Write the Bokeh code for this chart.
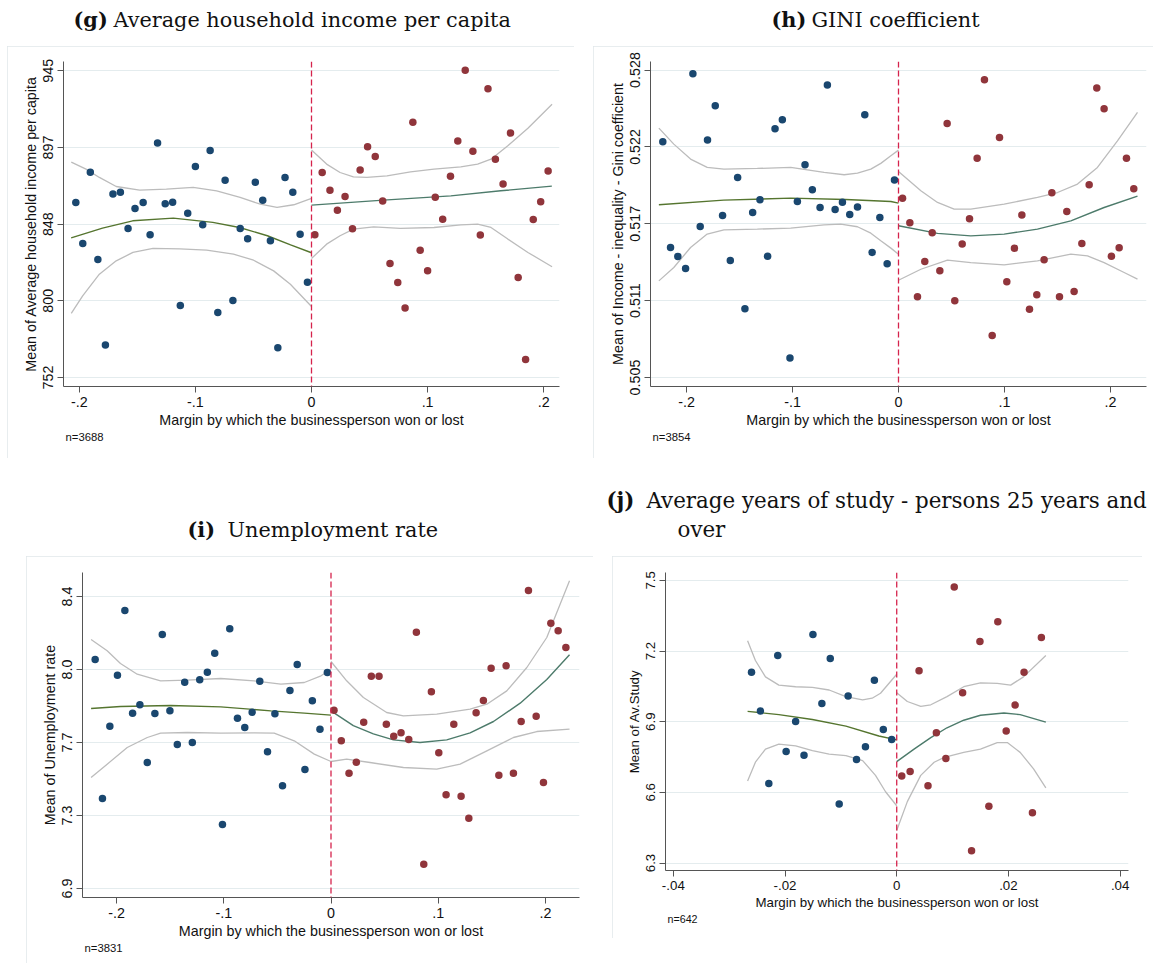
from bokeh.plotting import figure
from bokeh.models import Range1d, FixedTicker, Span, Title, Spacer, CustomJSTickFormatter
from bokeh.layouts import row, column
from bokeh.embed import file_html
from bokeh.resources import INLINE
from bokeh.core.properties import value

# ---------------- data: binned means, polynomial fits and 95% CI bands ----------------
# (g) Average household income per capita
g_blue_x = [-0.203, -0.197, -0.1905, -0.184, -0.1775, -0.171, -0.1646, -0.158, -0.152, -0.145, -0.139, -0.1326,
            -0.126, -0.1196, -0.113, -0.1066, -0.100, -0.0937, -0.0873, -0.0807, -0.0744, -0.0677, -0.0614, -0.055,
            -0.0484, -0.042, -0.0354, -0.029, -0.0228, -0.0161, -0.0098, -0.0035]
g_blue_y = [862.1, 836.3, 881.2, 826.3, 772.4, 867.4, 868.6, 845.8, 858.4, 862.1, 841.8, 899.5, 861.3, 862.3,
            797.3, 855.4, 884.8, 848.1, 894.9, 792.9, 876.2, 800.5, 845.8, 839.3, 874.9, 863.6, 838.0, 770.7,
            877.9, 868.6, 842.2, 812.0]
g_red_x = [0.0029, 0.0092, 0.0159, 0.0223, 0.0289, 0.0353, 0.0419, 0.0483, 0.0549, 0.0613, 0.0676, 0.0743,
           0.0806, 0.0873, 0.0936, 0.1000, 0.1066, 0.1130, 0.1197, 0.1260, 0.1324, 0.1390, 0.1454, 0.1520,
           0.1584, 0.1650, 0.1714, 0.1780, 0.1844, 0.1910, 0.1974, 0.2038]
g_red_y = [841.8, 881.0, 869.9, 857.3, 865.9, 845.6, 882.5, 897.2, 891.1, 863.0, 823.7, 811.8, 795.8, 912.7,
           832.1, 819.1, 865.5, 851.6, 878.7, 900.9, 945.4, 894.4, 841.6, 933.7, 889.4, 873.7, 905.8, 814.9,
           763.3, 851.4, 862.6, 881.9]
g_fitL_x = [-0.207, -0.18, -0.154, -0.119, -0.085, -0.062, -0.038, -0.018, 0.0]
g_fitL_y = [839.9, 846.0, 850.6, 852.3, 849.6, 846.4, 841.2, 835.5, 830.5]
g_upL_x = [-0.2069, -0.1942, -0.1827, -0.1682, -0.148, -0.125, -0.1019, -0.0817, -0.0615, -0.0442, -0.0297, -0.0153, 0.0]
g_upL_y = [887.5, 883.1, 877.9, 872.2, 869.9, 870.5, 871.6, 869.5, 865.3, 861.1, 859.0, 860.7, 864.7]
g_loL_x = [-0.2069, -0.1971, -0.1827, -0.1682, -0.1538, -0.1365, -0.1134, -0.0903, -0.0672, -0.0499, -0.0326, -0.0182, 0.0]
g_loL_y = [792.3, 803.4, 817.0, 825.4, 830.7, 833.2, 833.0, 832.1, 829.6, 825.8, 819.1, 810.7, 796.7]
g_fitR_x = [0.0, 0.062, 0.12, 0.163, 0.207]
g_fitR_y = [860.5, 863.6, 866.3, 869.5, 872.4]
g_upR_x = [0.0, 0.013, 0.0246, 0.0361, 0.0477, 0.065, 0.0853, 0.1055, 0.1286, 0.1431, 0.1546, 0.1691, 0.1864, 0.2072]
g_upR_y = [895.1, 886.3, 881.0, 878.3, 877.9, 878.9, 881.4, 883.1, 884.6, 886.3, 889.4, 897.8, 908.9, 924.0]
g_loR_x = [0.0, 0.013, 0.0246, 0.0361, 0.0535, 0.0766, 0.1055, 0.1286, 0.1431, 0.1546, 0.1691, 0.1864, 0.2072]
g_loR_y = [826.9, 835.9, 841.2, 845.4, 846.8, 845.8, 846.4, 848.1, 848.5, 846.4, 839.1, 830.7, 821.7]

# (h) GINI coefficient
h_blue_x = [-0.2224, -0.2151, -0.2082, -0.2009, -0.194, -0.1871, -0.1802, -0.1729, -0.166, -0.1587, -0.1518,
            -0.1449, -0.1376, -0.1307, -0.1235, -0.1165, -0.1096, -0.1024, -0.0954, -0.0882, -0.0813, -0.074,
            -0.0671, -0.0598, -0.0529, -0.046, -0.0387, -0.0318, -0.0249, -0.0176, -0.0107, -0.0038]
h_blue_y = [0.52264, 0.51473, 0.51406, 0.51316, 0.52773, 0.5163, 0.52276, 0.52533, 0.51712, 0.51376, 0.51997,
            0.51014, 0.51735, 0.5183, 0.51408, 0.52361, 0.52428, 0.50647, 0.51817, 0.52092, 0.51904, 0.51772,
            0.52688, 0.51757, 0.51812, 0.5172, 0.51775, 0.52466, 0.51436, 0.51697, 0.51351, 0.51977]
h_red_x = [0.0038, 0.0107, 0.0179, 0.0248, 0.0318, 0.039, 0.0459, 0.0531, 0.0601, 0.067, 0.0742, 0.0811, 0.0884,
           0.0953, 0.1022, 0.1094, 0.1164, 0.1236, 0.1305, 0.1374, 0.1447, 0.1519, 0.1588, 0.1657, 0.173, 0.1799,
           0.1871, 0.194, 0.2009, 0.2082, 0.2151, 0.222]
h_red_y = [0.51842, 0.51658, 0.51104, 0.51368, 0.51583, 0.51298, 0.52401, 0.51074, 0.51498, 0.51687, 0.52141,
           0.52728, 0.50814, 0.52296, 0.51216, 0.51468, 0.51715, 0.51011, 0.51119, 0.51381, 0.51882, 0.51104,
           0.51742, 0.51144, 0.51503, 0.51942, 0.52665, 0.52511, 0.51408, 0.5147, 0.52141, 0.51912]
h_fitL_x = [-0.2261, -0.165, -0.1017, -0.05, -0.0072, 0.0]
h_fitL_y = [0.51792, 0.51827, 0.51842, 0.51832, 0.51817, 0.51805]
h_upL_x = [-0.2261, -0.212, -0.1962, -0.1805, -0.1647, -0.1332, -0.1017, -0.0702, -0.0513, -0.0387, -0.0261,
           -0.0167, -0.0072, 0.0]
h_upL_y = [0.52366, 0.52246, 0.52134, 0.52072, 0.52059, 0.52064, 0.52072, 0.52034, 0.52017, 0.52029, 0.52059,
           0.52102, 0.52159, 0.52201]
h_loL_x = [-0.2261, -0.212, -0.1962, -0.1805, -0.1647, -0.1332, -0.1017, -0.0702, -0.0545, -0.0387, -0.0261,
           -0.0167, -0.0072, 0.0]
h_loL_y = [0.51223, 0.51323, 0.51473, 0.51573, 0.51605, 0.5161, 0.51618, 0.51642, 0.51647, 0.51628, 0.5158,
           0.51523, 0.51468, 0.51423]
h_fitR_x = [0.0, 0.0368, 0.0682, 0.0997, 0.1311, 0.1626, 0.194, 0.2255]
h_fitR_y = [0.51635, 0.51578, 0.5156, 0.51573, 0.5161, 0.51672, 0.51772, 0.51857]
h_upR_x = [0.0, 0.0211, 0.0368, 0.0525, 0.0682, 0.0997, 0.1311, 0.15, 0.1689, 0.1877, 0.2066, 0.2255]
h_upR_y = [0.52042, 0.51897, 0.5181, 0.5176, 0.5176, 0.51797, 0.51847, 0.51884, 0.51947, 0.52072, 0.52271, 0.52483]
h_loR_x = [0.0, 0.0211, 0.0462, 0.0682, 0.0997, 0.1311, 0.1626, 0.1783, 0.194, 0.2129, 0.2255]
h_loR_y = [0.51228, 0.5131, 0.51378, 0.5136, 0.51343, 0.51373, 0.51423, 0.5141, 0.5136, 0.51286, 0.51236]

# (i) Unemployment rate
i_blue_x = [-0.2199, -0.2131, -0.2062, -0.1991, -0.1922, -0.185, -0.1782, -0.1713, -0.1642, -0.1573, -0.1502,
            -0.1433, -0.1364, -0.1293, -0.1224, -0.1153, -0.1084, -0.1012, -0.0944, -0.0872, -0.0804, -0.0735,
            -0.0664, -0.0592, -0.0523, -0.0452, -0.0383, -0.0315, -0.0243, -0.0174, -0.0103, -0.0034]
i_blue_y = [8.0764, 7.3623, 7.7339, 7.9959, 8.3281, 7.8007, 7.8435, 7.5473, 7.799, 8.2048, 7.8127, 7.6397,
            7.9599, 7.65, 7.9719, 8.0113, 8.1089, 7.2288, 8.2339, 7.775, 7.7271, 7.8058, 7.9651, 7.6021, 7.7973,
            7.4274, 7.9171, 8.0507, 7.5113, 7.864, 7.7185, 8.0096]
i_red_x = [0.0028, 0.0096, 0.0168, 0.0236, 0.0305, 0.0376, 0.0448, 0.0516, 0.0585, 0.0653, 0.0725, 0.0796,
           0.0865, 0.0936, 0.1005, 0.1073, 0.1145, 0.1213, 0.1285, 0.1353, 0.1421, 0.1493, 0.1565, 0.1633,
           0.1701, 0.1773, 0.1841, 0.1913, 0.1981, 0.205, 0.2118, 0.219]
i_red_y = [7.8161, 7.6586, 7.4925, 7.549, 7.7545, 7.9908, 7.9908, 7.7442, 7.6825, 7.6997, 7.6654, 8.2168,
           7.025, 7.9103, 7.5969, 7.3812, 7.7442, 7.3743, 7.2613, 7.8024, 7.8658, 8.0318, 7.4822, 8.0438,
           7.4925, 7.7579, 8.4308, 7.7853, 7.4445, 8.263, 8.2236, 8.138]
i_fitL_x = [-0.2237, -0.1963, -0.1495, -0.1028, -0.0561, -0.0249, 0.0]
i_fitL_y = [7.8247, 7.8349, 7.8401, 7.8332, 7.8127, 7.8007, 7.7904]
i_upL_x = [-0.2237, -0.2087, -0.1963, -0.1807, -0.1589, -0.134, -0.1028, -0.0717, -0.0467, -0.0249, -0.0093, 0.0]
i_upL_y = [8.1791, 8.1209, 8.0558, 8.001, 7.9668, 7.9702, 7.9788, 7.9668, 7.9497, 7.9582, 7.9925, 8.0267]
i_loL_x = [-0.2237, -0.2087, -0.19, -0.1713, -0.1589, -0.134, -0.1028, -0.0717, -0.053, -0.0343, -0.0156, 0.0]
i_loL_y = [7.4702, 7.5387, 7.6243, 7.6757, 7.6979, 7.7014, 7.6979, 7.6997, 7.6979, 7.6586, 7.5901, 7.5524]
i_fitR_x = [0.0, 0.0208, 0.0395, 0.0582, 0.083, 0.1079, 0.1297, 0.1515, 0.1764, 0.2012, 0.2224]
i_fitR_y = [7.8127, 7.7366, 7.6945, 7.6637, 7.65, 7.6637, 7.6997, 7.7579, 7.8521, 7.9736, 8.1003]
i_upR_x = [0.0, 0.0146, 0.0302, 0.0519, 0.0675, 0.0986, 0.1297, 0.1453, 0.1639, 0.1826, 0.2012, 0.2224]
i_upR_y = [8.0661, 7.9668, 7.8812, 7.8041, 7.787, 7.7955, 7.8212, 7.8469, 7.9154, 8.0353, 8.1894, 8.4805]
i_loR_x = [0.0, 0.0146, 0.0364, 0.0675, 0.0986, 0.1204, 0.1453, 0.1701, 0.1919, 0.2224]
i_loR_y = [7.5524, 7.5644, 7.5473, 7.5216, 7.513, 7.5387, 7.6072, 7.6757, 7.7065, 7.7185]

# (j) Average years of study - persons 25 years and over
j_blue_x = [-0.026, -0.0244, -0.0229, -0.0213, -0.0198, -0.0181, -0.0166, -0.015, -0.0134, -0.0119, -0.0103,
            -0.0087, -0.0072, -0.0056, -0.004, -0.0024, -0.0009]
j_blue_y = [7.1098, 6.9453, 6.6373, 7.1808, 6.7739, 6.9007, 6.7571, 7.27, 6.9774, 7.1683, 6.5509, 7.0094,
            6.739, 6.7934, 7.0763, 6.8672, 6.824]
j_red_x = [0.0009, 0.0024, 0.004, 0.0056, 0.0071, 0.0088, 0.0103, 0.0118, 0.0134, 0.0149, 0.0165, 0.0181,
           0.0196, 0.0212, 0.0228, 0.0243, 0.0259]
j_red_y = [6.6693, 6.6889, 7.1167, 6.6275, 6.8533, 6.7432, 7.4721, 7.0233, 6.3516, 7.2408, 6.5411, 7.3244,
           6.8603, 6.9704, 7.1098, 6.5132, 7.2575]
j_fitL_x = [-0.0267, -0.0211, -0.0151, -0.0091, -0.0032, 0.0]
j_fitL_y = [6.9439, 6.93, 6.9091, 6.8812, 6.8394, 6.8226]
j_upL_x = [-0.0267, -0.0253, -0.0235, -0.0211, -0.0181, -0.0151, -0.0121, -0.0091, -0.0061, -0.0044, -0.0029, 0.0]
j_upL_y = [7.2436, 7.1599, 7.0902, 7.0554, 7.0484, 7.0457, 7.0345, 7.0066, 6.9927, 6.9997, 7.0206, 7.1014]
j_loL_x = [-0.0267, -0.0253, -0.0235, -0.0211, -0.0181, -0.0151, -0.0121, -0.0091, -0.0061, -0.0038, -0.002, 0.0]
j_loL_y = [6.6484, 6.7279, 6.7836, 6.8045, 6.7976, 6.7767, 6.7627, 6.7557, 6.7348, 6.6721, 6.6025, 6.5432]
j_fitR_x = [0.0, 0.0031, 0.0061, 0.009, 0.012, 0.015, 0.0192, 0.0221, 0.0267]
j_fitR_y = [6.7307, 6.7836, 6.8324, 6.8742, 6.9063, 6.9272, 6.9369, 6.93, 6.8979]
j_upR_x = [0.0, 0.0019, 0.0043, 0.0061, 0.009, 0.012, 0.015, 0.018, 0.0204, 0.0227, 0.0267]
j_upR_y = [7.0233, 6.9857, 6.9648, 6.9718, 7.0066, 7.0484, 7.0652, 7.0624, 7.0554, 7.0903, 7.1808]
j_loR_x = [0.0, 0.0019, 0.0043, 0.0067, 0.0085, 0.012, 0.015, 0.018, 0.0198, 0.0221, 0.0245, 0.0267]
j_loR_y = [6.438, 6.5606, 6.6721, 6.7279, 6.7488, 6.7697, 6.7836, 6.8115, 6.8115, 6.7697, 6.6999, 6.6192]

# axis ticks and their printed labels
x_ticks_wide = [-0.2, -0.1, 0.0, 0.1, 0.2]
x_labels_wide = ["-.2", "-.1", "0", ".1", ".2"]
x_ticks_narrow = [-0.04, -0.02, 0.0, 0.02, 0.04]
x_labels_narrow = ["-.04", "-.02", "0", ".02", ".04"]
g_y_ticks = [752, 800.25, 848.5, 896.75, 945]
g_y_labels = ["752", "800", "848", "897", "945"]
h_y_ticks = [0.505, 0.51075, 0.5165, 0.52225, 0.528]
h_y_labels = ["0.505", "0.511", "0.517", "0.522", "0.528"]
i_y_ticks = [6.9, 7.275, 7.65, 8.025, 8.4]
i_y_labels = ["6.9", "7.3", "7.7", "8.0", "8.4"]
j_y_ticks = [6.3, 6.6, 6.9, 7.2, 7.5]
j_y_labels = ["6.3", "6.6", "6.9", "7.2", "7.5"]

NAVY = "#1a476f"
MAROON = "#90353b"
FIT_L = "#55752f"
FIT_R = "#4d7b6b"
CI = "#bcbcbc"
GRID = "#e4ecee"
BOX = "#e0e7ea"
AXIS = "#555555"
SANS = "Liberation Sans"
SERIF = "DejaVu Serif"


def label_formatter(tick_values, tick_texts):
    return CustomJSTickFormatter(args=dict(tv=tick_values, tt=tick_texts), code="""
        let best = 0, d = Infinity;
        for (let k = 0; k < tv.length; k++) {
            const e = Math.abs(tv[k] - tick);
            if (e < d) { d = e; best = k; }
        }
        return tt[best];
    """)


def panel(w, h, borders, xr, yr, xt, xl, yt, yl, ylabel, note, fs, note_fs, series, clip_bottom=False):
    p = figure(width=w, height=h, x_range=Range1d(*xr), y_range=Range1d(*yr),
               output_backend="svg", toolbar_location=None, title=None,
               min_border_left=borders[0], min_border_right=borders[1],
               min_border_top=borders[2], min_border_bottom=borders[3],
               background_fill_color="white", border_fill_color="white")
    p.outline_line_color = None
    style = {"outline": "1px solid " + BOX, "outline-offset": "-1px"}
    if clip_bottom:
        style["clip-path"] = "inset(0px 0px 2px 0px)"
    p.styles = style

    p.xgrid.visible = False
    p.ygrid.grid_line_color = GRID
    p.ygrid.grid_line_width = 1
    p.ygrid.ticker = FixedTicker(ticks=yt)

    p.xaxis.ticker = FixedTicker(ticks=xt)
    p.xaxis.formatter = label_formatter(xt, xl)
    p.yaxis.ticker = FixedTicker(ticks=yt)
    p.yaxis.formatter = label_formatter(yt, yl)
    p.yaxis.major_label_orientation = "vertical"
    for ax in (p.xaxis[0], p.yaxis[0]):
        ax.axis_line_color = AXIS
        ax.major_tick_line_color = AXIS
        ax.minor_tick_line_color = None
        ax.major_tick_out = 6
        ax.major_tick_in = 0
        ax.major_label_text_font = SANS
        ax.major_label_text_font_size = fs
        ax.major_label_text_color = "#111111"
        ax.axis_label_text_font = SANS
        ax.axis_label_text_font_size = fs
        ax.axis_label_text_font_style = "normal"
        ax.axis_label_text_color = "#111111"
        ax.major_label_standoff = 4
        ax.axis_label_standoff = 2
    p.xaxis.axis_label = "Margin by which the businessperson won or lost"
    p.yaxis.axis_label = ylabel

    (bx, by, rx, ry, fLx, fLy, uLx, uLy, lLx, lLy, fRx, fRy, uRx, uRy, lRx, lRy) = series
    for xs, ys in ((uLx, uLy), (lLx, lLy), (uRx, uRy), (lRx, lRy)):
        p.line(xs, ys, line_color=CI, line_width=1.3)
    p.line(fLx, fLy, line_color=FIT_L, line_width=1.4)
    p.line(fRx, fRy, line_color=FIT_R, line_width=1.4)
    p.scatter(bx, by, size=7.5, fill_color=NAVY, line_color=None)
    p.scatter(rx, ry, size=7.5, fill_color=MAROON, line_color=None)
    p.add_layout(Span(location=0, dimension="height", line_color="#d5234c",
                      line_dash="6 3", line_width=1.3))
    p.add_layout(Title(text=note, align="left", offset=2, standoff=-4, text_font=SANS,
                       text_font_size=note_fs, text_font_style="normal",
                       text_color="#111111"), "below")
    return p


pg = panel(567, 412, (56, 15, 15, 72), (-0.2136, 0.2136), (746.34, 950.85),
           x_ticks_wide, x_labels_wide, g_y_ticks, g_y_labels,
           "Mean of Average household income per capita", "n=3688", "14.3px", "11.3px",
           (g_blue_x, g_blue_y, g_red_x, g_red_y, g_fitL_x, g_fitL_y, g_upL_x, g_upL_y, g_loL_x, g_loL_y,
            g_fitR_x, g_fitR_y, g_upR_x, g_upR_y, g_loR_x, g_loR_y))
ph = panel(560, 412, (57, 7, 15, 72), (-0.234, 0.234), (0.50433, 0.52864),
           x_ticks_wide, x_labels_wide, h_y_ticks, h_y_labels,
           "Mean of Income - inequality - Gini coefficient", "n=3854", "14.3px", "11.3px",
           (h_blue_x, h_blue_y, h_red_x, h_red_y, h_fitL_x, h_fitL_y, h_upL_x, h_upL_y, h_loL_x, h_loL_y,
            h_fitR_x, h_fitR_y, h_upR_x, h_upR_y, h_loR_x, h_loR_y))
pi = panel(567, 409, (56, 14, 16, 68), (-0.2317, 0.2317), (6.8538, 8.5233),
           x_ticks_wide, x_labels_wide, i_y_ticks, i_y_labels,
           "Mean of Unemployment rate", "n=3831", "14.3px", "11.3px",
           (i_blue_x, i_blue_y, i_red_x, i_red_y, i_fitL_x, i_fitL_y, i_upL_x, i_upL_y, i_loL_x, i_loL_y,
            i_fitR_x, i_fitR_y, i_upR_x, i_upR_y, i_loR_x, i_loR_y), clip_bottom=True)
pj = panel(530, 382, (53, 14, 15, 64), (-0.0414, 0.0415), (6.2682, 7.5334),
           x_ticks_narrow, x_labels_narrow, j_y_ticks, j_y_labels,
           "Mean of Av.Study", "n=642", "13.3px", "10.7px",
           (j_blue_x, j_blue_y, j_red_x, j_red_y, j_fitL_x, j_fitL_y, j_upL_x, j_upL_y, j_loL_x, j_loL_y,
            j_fitR_x, j_fitR_y, j_upR_x, j_upR_y, j_loR_x, j_loR_y))


def caption_strip(height):
    c = figure(width=1154, height=height, x_range=Range1d(0, 1154), y_range=Range1d(height, 0),
               x_axis_type=None, y_axis_type=None, output_backend="svg", toolbar_location=None,
               title=None, min_border=0)
    c.outline_line_color = None
    c.grid.visible = False
    return c


def caption(c, x_tag, x_text, y, tag, text, size="20.8px"):
    common = dict(text_font=value(SERIF), text_font_size=size, text_baseline="alphabetic",
                  text_align="left", text_color="#111111")
    c.text(x=[x_tag], y=[y], text=[tag], text_font_style="bold", **common)
    c.text(x=[x_text], y=[y], text=[text], text_font_style="normal", **common)


cap_top = caption_strip(46)
caption(cap_top, 73, 113, 19, "(g)", "Average household income per capita")
caption(cap_top, 771, 811, 19, "(h)", "GINI coefficient")

cap_mid = caption_strip(98)
caption(cap_mid, 187, 227, 71, "(i)", "Unemployment rate")
caption(cap_mid, 606, 646, 42, "(j)", "Average years of study - persons 25 years and", size="21.4px")
cap_mid.text(x=[677], y=[71], text=["over"], text_font=value(SERIF), text_font_size="21.4px",
             text_baseline="alphabetic", text_align="left", text_color="#111111")

layout = column(
    cap_top,
    row(Spacer(width=7, height=412), pg, Spacer(width=19, height=412), ph),
    cap_mid,
    row(Spacer(width=26, height=409), pi, Spacer(width=19, height=409), pj),
)

open("out.html", "w").write(file_html(layout, INLINE))
